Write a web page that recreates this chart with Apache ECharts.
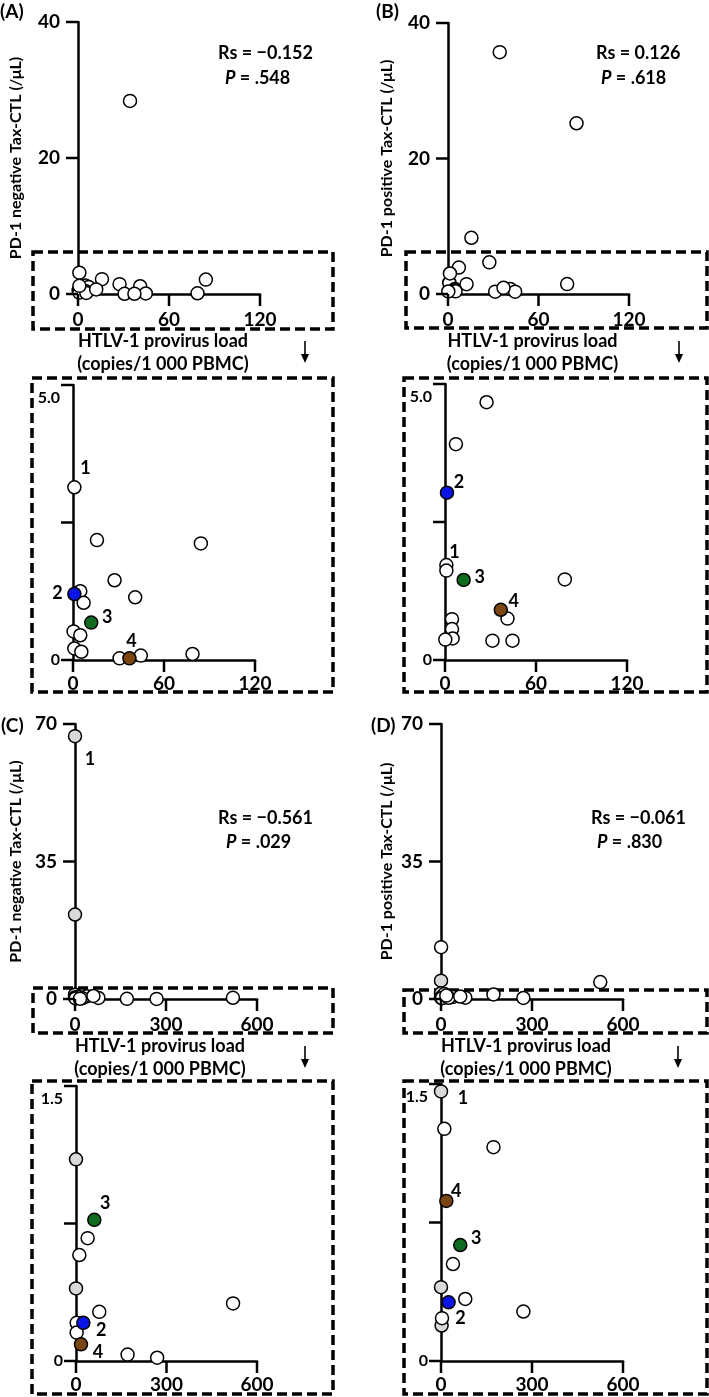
<!DOCTYPE html>
<html>
<head>
<meta charset="utf-8">
<script src="https://cdn.jsdelivr.net/npm/echarts@6/dist/echarts.min.js"></script>
<style>
  html, body { margin: 0; padding: 0; background: #fff; }
  #chart { width: 709px; height: 1397px; }
</style>
</head>
<body>
<div id="chart"></div>
<script>
// ---- values ----
// tick values of each axis
const pvlTicksAB = [0, 60, 120];
const pvlTicksCD = [0, 300, 600];
const ctlTicksAB = [0, 20, 40];
const ctlTicksCD = [0, 35, 70];
const zoomTicksAB = [0, 2.5, 5];
const zoomTicksCD = [0, 0.75, 1.5];

// (A) PD-1 negative Tax-CTL vs provirus load
const aX = [34.3, 0.9, 15.8, 84.3, 27.4, 4.8, 0.9, 7.0, 41.0, 12.0, 0.4, 4.8, 0.9, 5.5, 30.7, 37.2, 44.7, 78.8];
const aY = [28.4, 3.14, 2.18, 2.12, 1.45, 1.25, 1.2, 1.04, 1.14, 0.68, 0.52, 0.45, 0.21, 0.15, 0.03, 0.03, 0.08, 0.11];
const aKind = ['w', 'w', 'w', 'w', 'w', 'w', 'b', 'w', 'w', 'g', 'w', 'w', 'w', 'w', 'w', 'br', 'w', 'w'];
const aTag = ['', '1', '', '', '', '', '2', '', '', '3', '', '', '', '', '', '4', '', ''];

// (B) PD-1 positive Tax-CTL vs provirus load
const bX = [34.3, 85.2, 15.5, 27.4, 7.2, 1.3, 0.9, 0.9, 12.3, 79.0, 36.8, 41.2, 4.6, 4.6, 5.0, 0.2, 31.3, 44.5];
const bY = [35.7, 25.2, 8.3, 4.67, 3.91, 3.03, 1.72, 1.62, 1.45, 1.46, 0.91, 0.75, 0.74, 0.56, 0.39, 0.37, 0.35, 0.35];
const bKind = ['w', 'w', 'w', 'w', 'w', 'b', 'w', 'w', 'g', 'w', 'br', 'w', 'w', 'w', 'w', 'w', 'w', 'w'];
const bTag = ['', '', '', '', '', '2', '1', '', '3', '', '4', '', '', '', '', '', '', ''];

// (C) PD-1 negative Tax-CTL vs provirus load
const cX = [0, 0, 0, 60.7, 38.6, 11, 0, 520.6, 77.2, 2.2, 24.3, 2.2, 16.5, 171, 269];
const cY = [66.9, 21.5, 1.1, 0.77, 0.67, 0.578, 0.396, 0.314, 0.268, 0.208, 0.208, 0.155, 0.091, 0.035, 0.018];
const cKind = ['gr', 'gr', 'gr', 'g', 'w', 'w', 'gr', 'w', 'w', 'w', 'b', 'w', 'br', 'w', 'w'];
const cTag = ['1', '', '', '3', '', '', '', '', '', '', '2', '', '4', '', ''];

// (D) PD-1 positive Tax-CTL vs provirus load
const dX = [0.3, 0, 525, 0, 11, 173, 17.5, 63.5, 39.4, 0, 80, 25, 271.6, 3.3, 2];
const dY = [13.2, 4.67, 4.3, 1.46, 1.257, 1.158, 0.867, 0.628, 0.525, 0.40, 0.336, 0.318, 0.268, 0.232, 0.192];
const dKind = ['w', 'gr', 'w', 'gr', 'w', 'w', 'br', 'g', 'w', 'gr', 'w', 'b', 'w', 'w', 'gr'];
const dTag = ['', '', '', '1', '', '', '4', '3', '', '', '', '2', '', '', ''];

const statsText = {
  A: ['Rs = \u22120.152', '.548'],
  B: ['Rs = 0.126', '.618'],
  C: ['Rs = \u22120.561', '.029'],
  D: ['Rs = \u22120.061', '.830']
};

// ---- styling ----
const FONT = 'Lato, "Noto Sans", "DejaVu Sans", sans-serif';
const kindColor = { w: '#ffffff', gr: '#d9d9d9', b: '#0a14e6', g: '#0f6b1e', br: '#7b4612' };
const drawOrder = ['gr', 'w', 'b', 'g', 'br'];
const TICK_LEN = 12;

// where the patient numbers sit, relative to their circle
const tagOffset = {
  A1: {}, A2: { 1: [11, -19], 2: [-17, -1], 3: [16, -5], 4: [2, -17] },
  B1: {}, B2: { 1: [8, -13], 2: [12, -11], 3: [16, -3], 4: [13, -9] },
  C1: { 1: [15, 23] }, C2: { 2: [18, 7], 3: [11, -17], 4: [17, 8] },
  D1: {}, D2: { 1: [22, 7], 2: [12, 16], 3: [16, -7], 4: [10, -10] }
};

const panels = [
  { key: 'A1', x: aX, y: aY, kind: aKind, tag: aTag, xt: pvlTicksAB, yt: ctlTicksAB, zoomMax: 5, zoom: false,
    grid: { left: 78, top: 22, width: 182, height: 272 }, yName: 'PD-1 negative Tax-CTL (/\u03bcL)', nameGap: 54 },
  { key: 'A2', x: aX, y: aY, kind: aKind, tag: aTag, xt: pvlTicksAB, yt: zoomTicksAB, zoomMax: 5, zoom: true,
    grid: { left: 73, top: 385, width: 182, height: 275 }, topLabel: '5.0' },
  { key: 'B1', x: bX, y: bY, kind: bKind, tag: bTag, xt: pvlTicksAB, yt: ctlTicksAB, zoomMax: 5, zoom: false,
    grid: { left: 448, top: 23, width: 181, height: 271 }, yName: 'PD-1 positive Tax-CTL (/\u03bcL)', nameGap: 53 },
  { key: 'B2', x: bX, y: bY, kind: bKind, tag: bTag, xt: pvlTicksAB, yt: zoomTicksAB, zoomMax: 5, zoom: true,
    grid: { left: 445, top: 384, width: 182, height: 276 }, topLabel: '5.0' },
  { key: 'C1', x: cX, y: cY, kind: cKind, tag: cTag, xt: pvlTicksCD, yt: ctlTicksCD, zoomMax: 1.5, zoom: false,
    grid: { left: 75, top: 724, width: 182, height: 275 }, yName: 'PD-1 negative Tax-CTL (/\u03bcL)', nameGap: 51 },
  { key: 'C2', x: cX, y: cY, kind: cKind, tag: cTag, xt: pvlTicksCD, yt: zoomTicksCD, zoomMax: 1.5, zoom: true,
    grid: { left: 76, top: 1086, width: 181, height: 275 }, topLabel: '1.5' },
  { key: 'D1', x: dX, y: dY, kind: dKind, tag: dTag, xt: pvlTicksCD, yt: ctlTicksCD, zoomMax: 1.5, zoom: false,
    grid: { left: 441, top: 724, width: 182, height: 275 }, yName: 'PD-1 positive Tax-CTL (/\u03bcL)', nameGap: 46 },
  { key: 'D2', x: dX, y: dY, kind: dKind, tag: dTag, xt: pvlTicksCD, yt: zoomTicksCD, zoomMax: 1.5, zoom: true,
    grid: { left: 441, top: 1084, width: 182, height: 277 }, topLabel: '1.5' }
];

function buildPoints(p) {
  const items = [];
  drawOrder.forEach(k => {
    p.x.forEach((x, i) => {
      if (p.kind[i] !== k) return;
      const y = p.y[i];
      const inside = y <= p.zoomMax;
      if (p.zoom && !inside) return;
      const tag = p.tag[i];
      const showTag = tag && (p.zoom ? inside : !inside);
      // overview panels only keep the grey fill; the coloured patients are shown in the zooms
      const fill = (p.zoom || k === 'gr') ? kindColor[k] : kindColor.w;
      const item = { value: [x, y], itemStyle: { color: fill } };
      if (showTag) {
        item.label = {
          show: true, formatter: tag, position: 'inside',
          offset: tagOffset[p.key][tag] || [14, 0],
          color: '#000', fontFamily: FONT, fontWeight: 'bold', fontSize: 18
        };
      }
      items.push(item);
    });
  });
  return items;
}

const grid = [], xAxis = [], yAxis = [], series = [];
panels.forEach((p, i) => {
  grid.push(Object.assign({ containLabel: false }, p.grid));
  xAxis.push({
    type: 'value', gridIndex: i,
    min: p.xt[0], max: p.xt[p.xt.length - 1], interval: p.xt[1] - p.xt[0],
    axisLine: { show: true, onZero: true, lineStyle: { color: '#000', width: 2.5 } },
    axisTick: { show: false }, splitLine: { show: false },
    axisLabel: { color: '#000', fontFamily: FONT, fontWeight: 'bold', fontSize: 19, margin: p.zoom ? 14 : 16 },
    name: p.zoom ? '' : 'HTLV-1 provirus load\n(copies/1 000 PBMC)',
    nameLocation: 'middle', nameGap: 36,
    nameTextStyle: { color: '#000', fontFamily: FONT, fontWeight: 'bold', fontSize: 18, lineHeight: 23, padding: [0, 12, 0, 0] }
  });
  const yMax = p.yt[p.yt.length - 1];
  yAxis.push({
    type: 'value', gridIndex: i,
    min: p.yt[0], max: yMax, interval: p.yt[1] - p.yt[0],
    axisLine: { show: true, onZero: true, lineStyle: { color: '#000', width: 2.5 } },
    axisTick: { show: false }, splitLine: { show: false },
    axisLabel: p.zoom ? {
      color: '#000', fontFamily: FONT, fontWeight: 'bold', fontSize: 16, margin: 13,
      formatter: v => v === 0 ? '0' : (v === yMax ? '{t|' + p.topLabel + '}' : ''),
      rich: { t: { fontFamily: FONT, fontWeight: 'bold', fontSize: 16, color: '#000', padding: [26, 0, 0, 0] } }
    } : { color: '#000', fontFamily: FONT, fontWeight: 'bold', fontSize: 19, margin: 18 },
    name: p.yName || '', nameLocation: 'middle', nameGap: p.nameGap || 0,
    nameTextStyle: { color: '#000', fontFamily: FONT, fontWeight: 'bold', fontSize: 16 }
  });
  series.push({
    type: 'scatter', xAxisIndex: i, yAxisIndex: i,
    symbol: 'circle', symbolSize: 13,
    itemStyle: { borderColor: '#000', borderWidth: 1.5, opacity: 1 },
    emphasis: { disabled: true },
    data: buildPoints(p)
  });
});

// ---- annotations: panel letters, statistics, dashed boxes, arrows ----
const graphic = [];
function addText(text, x, y, size, align, rich) {
  graphic.push({
    type: 'text', x, y, z: 10, silent: true,
    style: { text, fill: '#000', font: 'bold ' + size + 'px ' + FONT, align: align || 'left', verticalAlign: 'middle', rich }
  });
}
const statRich = {
  n: { fontFamily: FONT, fontWeight: 'bold', fontSize: 18, fill: '#000', color: '#000' },
  i: { fontFamily: FONT, fontWeight: 'bold', fontStyle: 'italic', fontSize: 18, fill: '#000', color: '#000' }
};
const statPos = { A: [218, 53, 225, 78], B: [596, 53, 601, 78], C: [218, 818, 226, 842], D: [591, 818, 597, 842] };
Object.keys(statPos).forEach(k => {
  const s = statPos[k];
  addText('{n|' + statsText[k][0] + '}', s[0], s[1], 18, 'left', statRich);
  addText('{i|P}{n| = ' + statsText[k][1] + '}', s[2], s[3], 18, 'left', statRich);
});
addText('(A)', 0, 12, 19);
addText('(B)', 376, 12, 19);
addText('(C)', 1, 726, 19);
addText('(D)', 371, 726, 19);

const boxes = [
  [33, 252, 300, 77], [32, 378, 301, 314],
  [406, 252, 301, 76], [404, 378, 303, 314],
  [33, 988, 300, 45], [32, 1081, 301, 313],
  [404, 990, 303, 43], [404, 1081, 303, 313]
];
boxes.forEach(b => graphic.push({
  type: 'rect', z: 0, silent: true,
  shape: { x: b[0], y: b[1], width: b[2], height: b[3] },
  style: { fill: 'none', stroke: '#000', lineWidth: 3.5, lineDash: [10, 5] }
}));

const arrows = [[305, 341], [679, 341], [305, 1046], [678, 1046]];
arrows.forEach(a => {
  graphic.push({ type: 'line', z: 10, silent: true, shape: { x1: a[0], y1: a[1], x2: a[0], y2: a[1] + 15 },
    style: { stroke: '#000', lineWidth: 1.6 } });
  graphic.push({ type: 'polygon', z: 10, silent: true,
    shape: { points: [[a[0] - 4, a[1] + 13], [a[0] + 4, a[1] + 13], [a[0], a[1] + 22]] },
    style: { fill: '#000' } });
});

const chart = echarts.init(document.getElementById('chart'), null, { renderer: 'canvas' });
chart.setOption({
  animation: false,
  backgroundColor: '#fff',
  textStyle: { fontFamily: FONT },
  grid, xAxis, yAxis, series, graphic
});

// outward tick marks, placed through each grid's own scales
panels.forEach((p, i) => {
  p.xt.forEach(v => {
    const pt = chart.convertToPixel({ gridIndex: i }, [v, 0]);
    graphic.push({ type: 'line', z: 5, silent: true,
      shape: { x1: pt[0], y1: pt[1], x2: pt[0], y2: pt[1] + TICK_LEN },
      style: { stroke: '#000', lineWidth: 2.5 } });
  });
  p.yt.forEach(v => {
    const pt = chart.convertToPixel({ gridIndex: i }, [0, v]);
    graphic.push({ type: 'line', z: 5, silent: true,
      shape: { x1: pt[0] - TICK_LEN, y1: pt[1], x2: pt[0], y2: pt[1] },
      style: { stroke: '#000', lineWidth: 2.5 } });
  });
});
chart.setOption({ graphic });
</script>
</body>
</html>
